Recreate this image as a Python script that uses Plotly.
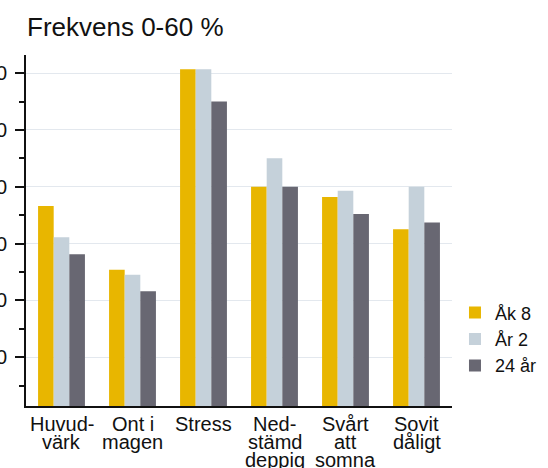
import plotly.graph_objects as go

categories = ["Huvud-<br>värk", "Ont i<br>magen", "Stress", "Ned-<br>stämd<br>deppig", "Svårt<br>att<br>somna", "Sovit<br>dåligt"]
series_names = ["Åk 8", "År 2", "24 år"]
ak8 = [36.6, 25.4, 60.7, 40.0, 38.2, 32.5]
ar2 = [31.1, 24.5, 60.7, 45.0, 39.3, 40.0]
ar24 = [28.1, 21.6, 55.0, 40.0, 35.2, 33.7]
colors = ["#E8B600", "#C5D1DA", "#686772"]

font = "Liberation Sans, Arial, sans-serif"

fig = go.Figure()
for name, vals, col in zip(series_names, [ak8, ar2, ar24], colors):
    fig.add_trace(go.Bar(x=categories, y=vals, name=name, marker_color=col,
                         marker_line_width=0))

# category labels with tight line spacing, one annotation per line
for cat in categories:
    for i, line in enumerate(cat.split("<br>")):
        fig.add_annotation(x=cat, xref="x", y=0, yref="paper", yanchor="top",
                           yshift=-(5 + 18 * i), text=line, showarrow=False,
                           font=dict(family=font, size=20, color="#111111"))

fig.update_layout(
    width=548, height=468,
    margin=dict(l=26, r=96, t=55, b=62, autoexpand=False),
    plot_bgcolor="white", paper_bgcolor="white",
    font=dict(family=font, size=20, color="#111111"),
    title=dict(text="Frekvens 0-60 %", x=27 / 548, xanchor="left", y=1 - 27 / 468, yanchor="middle",
               font=dict(size=26, color="#111111")),
    barmode="group", bargap=0.34, bargroupgap=0,
    showlegend=True,
    legend=dict(x=1.007, xanchor="left", y=0.318, yanchor="top", font=dict(size=18),
                bgcolor="rgba(0,0,0,0)", tracegroupgap=0),
)
fig.update_xaxes(showline=True, linecolor="#111111", linewidth=1.5, ticks="",
                 showticklabels=False, automargin=False)
fig.update_yaxes(range=[1.4, 63.2], tickvals=[10, 20, 30, 40, 50, 60],
                 showgrid=True, gridcolor="#E3E8EE", gridwidth=1, zeroline=False,
                 showline=True, linecolor="#111111", linewidth=1.5,
                 ticks="outside", ticklen=9, tickcolor="#111111", tickwidth=1.5,
                 tickfont=dict(size=20), ticklabelstandoff=4, automargin=False,
                 minor=dict(dtick=5, ticks="outside", ticklen=5, tickcolor="#111111", tickwidth=1.5, showgrid=False))
fig.write_html("out.html", config={"displayModeBar": False},
               post_script="document.body.style.margin='0';")
